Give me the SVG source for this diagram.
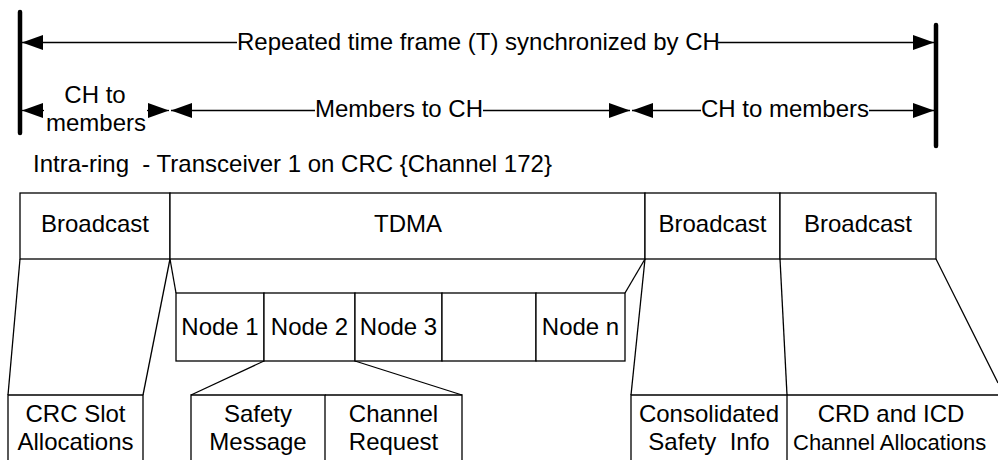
<svg xmlns="http://www.w3.org/2000/svg" width="998" height="460" viewBox="0 0 998 460">
<style>
  text { font-family: "Liberation Sans", Arial, sans-serif; font-size: 24px; fill: #000; }
  .c { text-anchor: middle; }
  .pre { white-space: pre; }
  .box { fill: #fff; stroke: #000; stroke-width: 1.3; }
  .edge { fill: none; stroke: #000; stroke-width: 1.3; }
  .bar { stroke: #000; stroke-width: 4.5; stroke-linecap: round; }
  .arr { stroke: #000; stroke-width: 1.3; fill: none; marker-end: url(#ah); }
</style>
<defs>
  <marker id="ah" markerUnits="userSpaceOnUse" markerWidth="22" markerHeight="16" refX="21" refY="7.5" orient="auto" viewBox="0 0 22 16">
    <path d="M0,0 L21,7.5 L0,15 z" fill="#000"/>
  </marker>
</defs>

<g id="timeline">
  <line class="bar" x1="20" y1="12" x2="20" y2="133"/>
  <line class="bar" x1="936" y1="25" x2="936" y2="146"/>
  <text x="237" y="50">Repeated time frame (T) synchronized by CH</text>
  <text class="c" x="95" y="103">CH to</text>
  <text class="c" x="96" y="131">members</text>
  <text x="315" y="117">Members to CH</text>
  <text x="701" y="117">CH to members</text>
  <text class="pre" x="33" y="172" xml:space="preserve">Intra-ring  - Transceiver 1 on CRC {Channel 172}</text>
</g>

<g id="connectors">
  <line class="arr" x1="237" y1="42.5" x2="22" y2="42.5"/>
  <line class="arr" x1="718" y1="42.5" x2="934" y2="42.5"/>
  <line class="arr" x1="44" y1="110.5" x2="22" y2="110.5"/>
  <line class="arr" x1="147" y1="110.5" x2="169" y2="110.5"/>
  <line class="arr" x1="315" y1="110.5" x2="171" y2="110.5"/>
  <line class="arr" x1="483" y1="110.5" x2="630" y2="110.5"/>
  <line class="arr" x1="701" y1="110.5" x2="632" y2="110.5"/>
  <line class="arr" x1="869" y1="110.5" x2="934" y2="110.5"/>
  <line class="edge" x1="20" y1="259" x2="8" y2="395"/>
  <line class="edge" x1="170" y1="259" x2="143" y2="395"/>
  <line class="edge" x1="170" y1="259" x2="176" y2="293"/>
  <line class="edge" x1="645" y1="259" x2="625" y2="293"/>
  <line class="edge" x1="264" y1="361" x2="191" y2="395"/>
  <line class="edge" x1="355" y1="361" x2="462" y2="395"/>
  <line class="edge" x1="645" y1="259" x2="631" y2="395"/>
  <line class="edge" x1="780" y1="259" x2="787" y2="395"/>
  <line class="edge" x1="936" y1="259" x2="998" y2="383"/>
</g>

<g id="broadcast1">
  <rect class="box" x="20" y="193" width="150" height="66"/>
  <text class="c" x="95" y="232">Broadcast</text>
</g>
<g id="tdma">
  <rect class="box" x="170" y="193" width="475" height="66"/>
  <text class="c" x="408" y="232">TDMA</text>
</g>
<g id="broadcast2">
  <rect class="box" x="645" y="193" width="135" height="66"/>
  <text class="c" x="712.5" y="232">Broadcast</text>
</g>
<g id="broadcast3">
  <rect class="box" x="780" y="193" width="156" height="66"/>
  <text class="c" x="858" y="232">Broadcast</text>
</g>

<g id="node1">
  <rect class="box" x="176" y="293" width="88" height="68"/>
  <text class="c" x="220" y="335">Node 1</text>
</g>
<g id="node2">
  <rect class="box" x="264" y="293" width="91" height="68"/>
  <text class="c" x="309.5" y="335">Node 2</text>
</g>
<g id="node3">
  <rect class="box" x="355" y="293" width="87" height="68"/>
  <text class="c" x="398.5" y="335">Node 3</text>
</g>
<g id="nodeempty">
  <rect class="box" x="442" y="293" width="94" height="68"/>
</g>
<g id="noden">
  <rect class="box" x="536" y="293" width="89" height="68"/>
  <text class="c" x="580.5" y="335">Node n</text>
</g>

<g id="crcslot">
  <polyline class="edge" points="8,460 8,395 143,395 143,460"/>
  <text class="c" x="75.5" y="422">CRC Slot</text>
  <text class="c" x="75.5" y="450">Allocations</text>
</g>
<g id="safety">
  <polyline class="edge" points="191,460 191,395 325,395 325,460"/>
  <text class="c" x="258" y="422">Safety</text>
  <text class="c" x="258" y="450">Message</text>
</g>
<g id="channelreq">
  <polyline class="edge" points="325,395 462,395 462,460"/>
  <text class="c" x="393.5" y="422">Channel</text>
  <text class="c" x="393.5" y="450">Request</text>
</g>
<g id="consolidated">
  <polyline class="edge" points="631,460 631,395 787,395 787,460"/>
  <text class="c" x="709" y="422">Consolidated</text>
  <text class="c pre" x="709" y="450" xml:space="preserve">Safety  Info</text>
</g>
<g id="crd">
  <polyline class="edge" points="787,395 998,395"/>
  <text class="c" x="891" y="422">CRD and ICD</text>
  <text x="793" y="450" style="font-size:22px">Channel Allocations</text>
</g>
</svg>
